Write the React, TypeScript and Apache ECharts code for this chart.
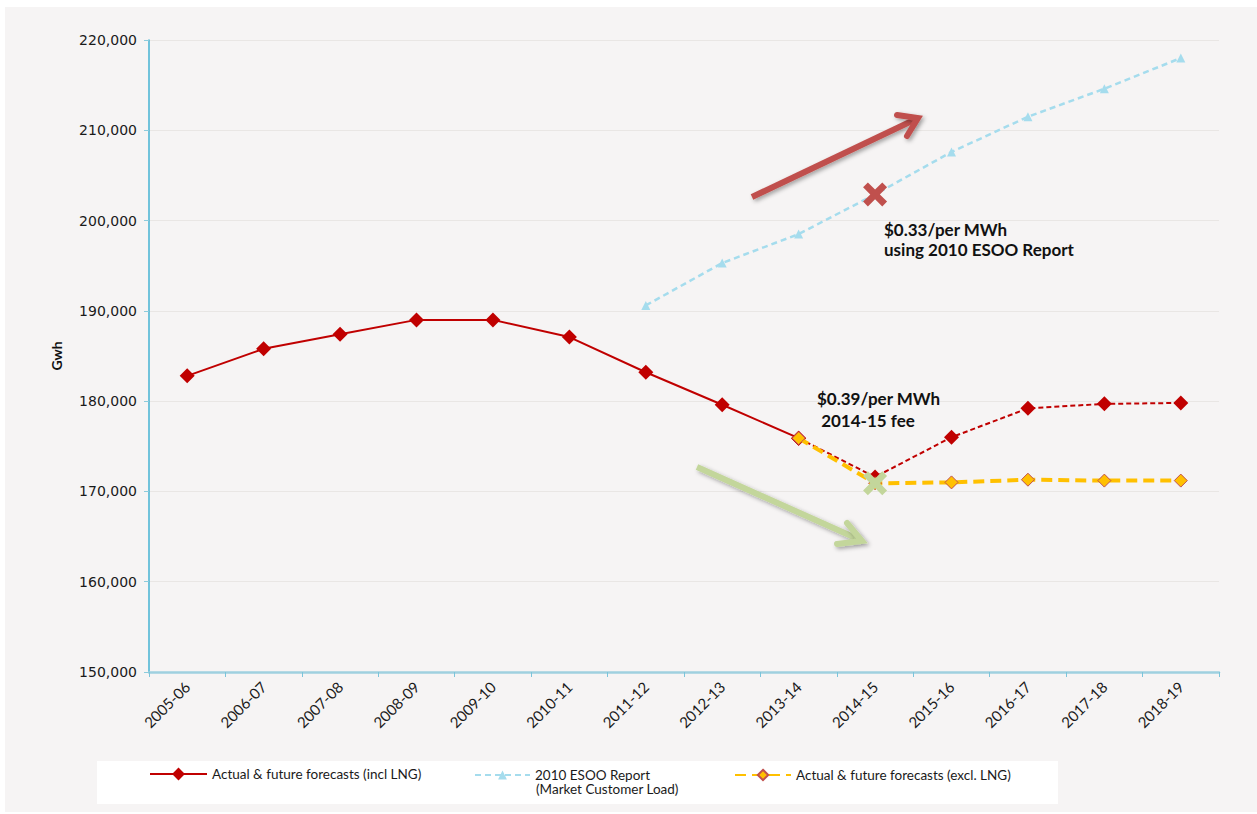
import React, { useEffect, useRef } from "react";
import * as echarts from "echarts";

const categories = [
  "2005-06", "2006-07", "2007-08", "2008-09", "2009-10", "2010-11", "2011-12",
  "2012-13", "2013-14", "2014-15", "2015-16", "2016-17", "2017-18", "2018-19",
];

// Actual & future forecasts (incl LNG): actual part (solid) and forecast part (dashed)
const inclActual = [182800, 185800, 187400, 189000, 189000, 187100, 183200, 179600, 175900, null, null, null, null, null];
const inclForecast = [null, null, null, null, null, null, null, null, 175900, 171600, 176000, 179200, 179700, 179800];
// 2010 ESOO Report (Market Customer Load)
const esoo = [null, null, null, null, null, null, 190600, 195300, 198500, 202900, 207600, 211500, 214600, 218000];
// Actual & future forecasts (excl. LNG)
const exclLng = [null, null, null, null, null, null, null, null, 175900, 170900, 171000, 171300, 171200, 171200];

const yTicks = { min: 150000, max: 220000, interval: 10000 };

const nameIncl = "Actual & future forecasts (incl LNG)";
const nameInclF = "Forecast (incl LNG)";
const nameEsoo = "2010 ESOO Report";
const nameEsooLine2 = "(Market Customer Load)";
const nameExcl = "Actual & future forecasts (excl. LNG)";

const X_PATH = "path://M4,0 L10,6 L16,0 L20,4 L14,10 L20,16 L16,20 L10,14 L4,20 L0,16 L6,10 L0,4 Z";

export default function App() {
  const ref = useRef<HTMLDivElement>(null);
  useEffect(() => {
    document.body.style.margin = "0";
    const chart = echarts.init(ref.current!, undefined, { renderer: "svg" });
    const shadow = { shadowBlur: 4, shadowColor: "rgba(0,0,0,0.35)", shadowOffsetX: 2, shadowOffsetY: 2 };
    const legendText = { fontFamily: "Lato", fontSize: 13.5, color: "#1a1a1a" };
    const option: any = {
      animation: false,
      backgroundColor: "#ffffff",
      grid: { left: 149, top: 40, right: 38, bottom: 142 },
      xAxis: {
        type: "category",
        data: categories,
        boundaryGap: true,
        axisLine: { lineStyle: { color: "#9fd0df", width: 2.5 } },
        axisTick: { show: true, length: 5, lineStyle: { color: "#7cc4da", width: 1 } },
        axisLabel: { rotate: 45, margin: 12, fontFamily: "Lato", fontSize: 15, color: "#1a1a1a" },
        splitLine: { show: false },
      },
      yAxis: {
        type: "value",
        min: yTicks.min,
        max: yTicks.max,
        interval: yTicks.interval,
        name: "Gwh",
        nameLocation: "middle",
        nameGap: 86,
        nameTextStyle: { fontFamily: "Lato", fontWeight: "bold", fontSize: 14, color: "#111" },
        axisLine: { show: true, lineStyle: { color: "#45b3d3", width: 1.5 } },
        axisTick: { show: true, length: 5, lineStyle: { color: "#8ccbdc", width: 1 } },
        axisLabel: {
          margin: 12,
          fontFamily: "DejaVu Sans",
          fontSize: 14,
          color: "#1a1a1a",
          formatter: (v: number) => v.toLocaleString("en-US"),
        },
        splitLine: { show: true, lineStyle: { color: "#e9e6e4", width: 1 } },
      },
      legend: [
        {
          left: 149, top: 767, padding: 0, itemWidth: 57, itemHeight: 16, itemGap: 5,
          data: [nameIncl],
          textStyle: legendText,
        },
        {
          left: 474, top: 768, padding: 0, itemWidth: 55, itemHeight: 11, itemGap: 5,
          data: [nameEsoo],
          textStyle: legendText,
        },
        {
          left: 734, top: 768, padding: 0, itemWidth: 56, itemHeight: 13, itemGap: 5,
          data: [nameExcl],
          textStyle: legendText,
        },
      ],
      graphic: [
        { type: "rect", silent: true, z: -10, shape: { x: 5, y: 7, width: 1252, height: 805 }, style: { fill: "#f6f4f4" } },
        { type: "rect", silent: true, z: -9, shape: { x: 97, y: 761, width: 961, height: 43 }, style: { fill: "#ffffff" } },
        {
          type: "text", z: 60, left: 536, top: 782,
          style: { text: nameEsooLine2, ...legendText, fill: "#1a1a1a" },
        },
        // red arrow
        { type: "line", z: 50, shape: { x1: 752, y1: 197, x2: 914, y2: 120 }, style: { stroke: "#c0504d", lineWidth: 6, lineCap: "butt", ...shadow } },
        { type: "polyline", z: 50, shape: { points: [[897, 115], [918, 118], [907, 136]] }, style: { stroke: "#c0504d", lineWidth: 6, fill: null, lineCap: "round", lineJoin: "miter", ...shadow } },
        // green arrow
        { type: "line", z: 50, shape: { x1: 697, y1: 467, x2: 858, y2: 539 }, style: { stroke: "#c3d69b", lineWidth: 6, lineCap: "butt", ...shadow } },
        { type: "polyline", z: 50, shape: { points: [[847, 523], [862, 541], [837, 544]] }, style: { stroke: "#c3d69b", lineWidth: 6, fill: null, lineCap: "round", lineJoin: "miter", ...shadow } },
        // annotations
        {
          type: "text", z: 60, left: 884, top: 219,
          style: { text: "$0.33/per MWh\nusing 2010 ESOO Report", fontFamily: "Lato", fontWeight: "bold", fontSize: 17, lineHeight: 20, fill: "#111" },
        },
        {
          type: "text", z: 60, left: 817, top: 387,
          style: { text: "$0.39/per MWh\n 2014-15 fee", fontFamily: "Lato", fontWeight: "bold", fontSize: 17, lineHeight: 22, fill: "#111" },
        },
      ],
      series: [
        {
          name: nameEsoo,
          type: "line",
          data: esoo,
          connectNulls: false,
          symbol: "triangle",
          symbolSize: 9,
          itemStyle: { color: "#a5dced" },
          lineStyle: { color: "#a5dced", width: 2.5, type: [6, 4] },
          markPoint: {
            symbol: X_PATH,
            symbolSize: 24,
            itemStyle: { color: "#c0504d" },
            label: { show: false },
            data: [{ coord: [categories[9], esoo[9]] }],
            z: 40,
          },
          z: 3,
        },
        {
          name: nameIncl,
          type: "line",
          data: inclActual,
          symbol: "diamond",
          symbolSize: 15,
          itemStyle: { color: "#c00000" },
          lineStyle: { color: "#c00000", width: 2 },
          z: 4,
        },
        {
          name: nameInclF,
          type: "line",
          data: inclForecast,
          symbol: "diamond",
          symbolSize: 15,
          itemStyle: { color: "#c00000" },
          lineStyle: { color: "#c00000", width: 2, type: [5, 3] },
          z: 4,
        },
        {
          name: nameExcl,
          type: "line",
          data: exclLng,
          symbol: "diamond",
          symbolSize: 13,
          itemStyle: { color: "#ffc000", borderColor: "#c0504d", borderWidth: 1 },
          lineStyle: { color: "#ffc000", width: 4, type: [11, 6] },
          markPoint: {
            symbol: X_PATH,
            symbolSize: 24,
            itemStyle: { color: "#c3d69b" },
            label: { show: false },
            data: [{ coord: [categories[9], exclLng[9]] }],
            z: 40,
          },
          z: 5,
        },
      ],
    };
    chart.setOption(option);
    return () => chart.dispose();
  }, []);
  return <div ref={ref} style={{ width: 1257, height: 814 }} />;
}
